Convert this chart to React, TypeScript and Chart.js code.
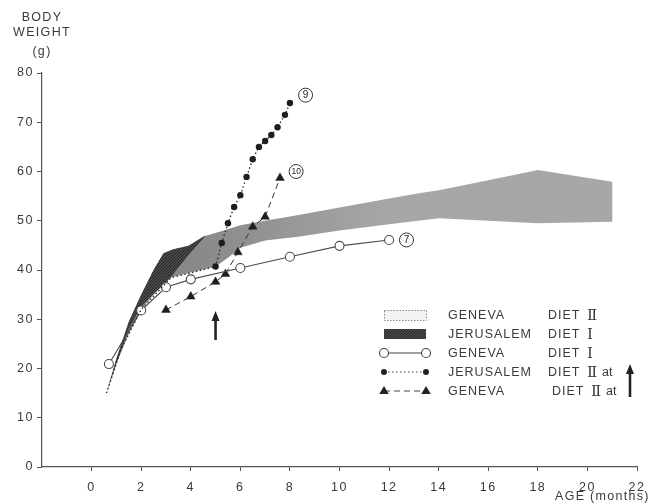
import React, { useEffect, useRef } from 'react';
import { Chart, registerables } from 'chart.js';

Chart.register(...registerables);

// ---- axis ticks ----
const X_TICKS = [0, 2, 4, 6, 8, 10, 12, 14, 16, 18, 20, 22];
const Y_TICKS = [0, 10, 20, 30, 40, 50, 60, 70, 80];

// ---- Geneva, diet I (open circles, solid) ----
const genevaDietIAge = [0.7, 2, 3, 4, 6, 8, 10, 12];
const genevaDietIWeight = [20.9, 31.8, 36.5, 38.1, 40.4, 42.7, 44.9, 46.1];

// ---- Jerusalem, diet II at arrow (filled dots, dotted) ----
const jerusalemDietIIAge = [0.6, 1.2, 2.0, 3.2, 5.0, 5.25, 5.5, 5.75, 6.0, 6.25, 6.5, 6.75, 7.0, 7.25, 7.5, 7.8, 8.0];
const jerusalemDietIIWeight = [15, 24, 32, 38.4, 40.7, 45.5, 49.5, 52.8, 55.2, 58.9, 62.5, 65.0, 66.2, 67.4, 69.0, 71.5, 73.9];
const jerusalemDietIIMarked = [false, false, false, false, true, true, true, true, true, true, true, true, true, true, true, true, true];

// ---- Geneva, diet II at arrow (triangles, dashed) ----
const genevaDietIIArrowAge = [3, 4, 5, 5.4, 5.9, 6.5, 7, 7.6];
const genevaDietIIArrowWeight = [31.9, 34.6, 37.6, 39.2, 43.6, 48.8, 50.8, 58.7];

// ---- Geneva, diet II range (light band) ----
const genevaDietIIUpperAge = [0.6, 1.0, 1.5, 2.0, 2.5, 2.9, 3.3, 3.9, 4.5, 5.2, 6, 7, 8.4, 10, 12, 13.2, 14, 16, 18, 21];
const genevaDietIIUpperWeight = [15, 22, 29.5, 35, 40, 43.4, 44.2, 44.7, 46.8, 47.8, 49.1, 50, 51.2, 52.7, 54.5, 55.6, 56.2, 58.2, 60.3, 57.9];
const genevaDietIILowerAge = [0.6, 1.0, 1.5, 2.0, 2.5, 3.2, 4.0, 5.0, 5.5, 6.0, 7.0, 8.4, 10, 12, 14, 16, 18, 21];
const genevaDietIILowerWeight = [15, 21, 27, 32, 35, 38.5, 39.5, 40.7, 42.5, 44.5, 46, 46.8, 48.0, 49.3, 50.5, 50.0, 49.5, 49.8];

// ---- Jerusalem, diet I range (dark hatched band) ----
const jerusalemDietIUpperAge = [0.6, 1.0, 1.5, 2.0, 2.5, 2.9, 3.3, 3.9, 4.6];
const jerusalemDietIUpperWeight = [15, 22, 29.5, 35, 40, 43.4, 44.2, 44.9, 47.0];
const jerusalemDietILowerAge = [0.6, 1.0, 1.5, 2.0, 2.5, 3.2, 3.8, 4.6];
const jerusalemDietILowerWeight = [15, 21, 28, 32.6, 35.2, 38.6, 42.4, 47.0];

// ---- circled group labels ----
const groupLabels = ['9', '10', '7'];
const groupLabelAge = [8.63, 8.25, 12.7];
const groupLabelWeight = [75.5, 60.0, 46.1];

// ---- arrow (diet change) ----
const arrowAge = 5;
const arrowFromWeight = 25.8;
const arrowToWeight = 31.7;

// ---- legend ----
const legendPlaces = ['GENEVA', 'JERUSALEM', 'GENEVA', 'JERUSALEM', 'GENEVA'];
const legendDiets = ['Ⅱ', 'Ⅰ', 'Ⅰ', 'Ⅱ', 'Ⅱ'];
const legendAt = [false, false, false, true, true];

const zip = (xs: number[], ys: number[]) => xs.map((x, i) => ({ x, y: ys[i] }));
const polygon = (ux: number[], uy: number[], lx: number[], ly: number[]) =>
  zip(ux, uy).concat(zip(lx, ly).reverse());

const FONT = '"Liberation Sans", Arial, Helvetica, sans-serif';
const INK = '#3a3a3a';

function makeHatch(): CanvasPattern | string {
  const c = document.createElement('canvas');
  c.width = 3;
  c.height = 3;
  const g = c.getContext('2d');
  if (!g) return '#444';
  g.fillStyle = '#6c6c6c';
  g.fillRect(0, 0, 3, 3);
  g.strokeStyle = '#262626';
  g.lineWidth = 1.4;
  g.beginPath();
  g.moveTo(0, 3); g.lineTo(3, 0);
  g.moveTo(-1, 1); g.lineTo(1, -1);
  g.moveTo(2, 4); g.lineTo(4, 2);
  g.stroke();
  return g.createPattern(c, 'repeat') || '#444';
}

function drawArrow(ctx: CanvasRenderingContext2D, x: number, yBottom: number, yTip: number) {
  ctx.save();
  ctx.strokeStyle = '#222';
  ctx.fillStyle = '#222';
  ctx.lineWidth = 2.6;
  ctx.beginPath();
  ctx.moveTo(x, yBottom);
  ctx.lineTo(x, yTip + 8);
  ctx.stroke();
  ctx.beginPath();
  ctx.moveTo(x, yTip);
  ctx.lineTo(x - 4, yTip + 10);
  ctx.lineTo(x + 4, yTip + 10);
  ctx.closePath();
  ctx.fill();
  ctx.restore();
}

function drawTriangle(ctx: CanvasRenderingContext2D, x: number, y: number, r: number) {
  ctx.beginPath();
  ctx.moveTo(x, y - r);
  ctx.lineTo(x + r * 0.95, y + r * 0.6);
  ctx.lineTo(x - r * 0.95, y + r * 0.6);
  ctx.closePath();
  ctx.fill();
}

export default function App() {
  const ref = useRef<HTMLCanvasElement>(null);

  useEffect(() => {
    const canvas = ref.current;
    if (!canvas) return;
    const hatch = makeHatch();

    const spacingPlugin = {
      id: 'spacing',
      beforeDraw(chart: any) {
        chart.ctx.letterSpacing = '1.5px';
      },
    };

    const decorPlugin = {
      id: 'decor',
      afterDatasetsDraw(chart: any) {
        const ctx: CanvasRenderingContext2D = chart.ctx;
        const xs = chart.scales.x;
        const ys = chart.scales.y;
        ctx.save();
        (ctx as any).letterSpacing = '0px';
        groupLabels.forEach((t, i) => {
          const px = xs.getPixelForValue(groupLabelAge[i]);
          const py = ys.getPixelForValue(groupLabelWeight[i]);
          ctx.beginPath();
          ctx.arc(px, py, 7, 0, Math.PI * 2);
          ctx.fillStyle = '#fff';
          ctx.fill();
          ctx.lineWidth = 1;
          ctx.strokeStyle = '#333';
          ctx.stroke();
          ctx.fillStyle = '#222';
          ctx.font = `${t.length > 1 ? 8.5 : 10}px ${FONT}`;
          ctx.textAlign = 'center';
          ctx.textBaseline = 'middle';
          ctx.fillText(t, px, py + 0.5);
        });
        drawArrow(ctx, xs.getPixelForValue(arrowAge), ys.getPixelForValue(arrowFromWeight), ys.getPixelForValue(arrowToWeight));
        ctx.restore();
      },
      afterDraw(chart: any) {
        const ctx: CanvasRenderingContext2D = chart.ctx;
        ctx.save();
        ctx.fillStyle = INK;
        ctx.textBaseline = 'middle';
        (ctx as any).letterSpacing = '1.3px';
        ctx.font = `12.5px ${FONT}`;
        ctx.textAlign = 'center';
        ctx.fillText('BODY', 42, 18);
        ctx.fillText('WEIGHT', 42, 33);
        ctx.fillText('(g)', 42, 52);
        ctx.textAlign = 'left';
        ctx.fillText('AGE (months)', 555, 497);

        const rows = [315, 334, 353, 372, 391];
        const x0 = 384;
        const x1 = 426;
        rows.forEach((y, i) => {
          ctx.save();
          ctx.strokeStyle = '#444';
          ctx.fillStyle = '#222';
          if (i === 0) {
            ctx.fillStyle = '#f3f3f3';
            ctx.fillRect(x0, y - 5, x1 - x0, 10);
            ctx.setLineDash([1.5, 1.5]);
            ctx.strokeStyle = '#888';
            ctx.lineWidth = 1;
            ctx.strokeRect(x0 + 0.5, y - 4.5, x1 - x0, 10);
          } else if (i === 1) {
            ctx.fillStyle = hatch as any;
            ctx.fillRect(x0, y - 5, x1 - x0, 10);
          } else if (i === 2) {
            ctx.lineWidth = 1.1;
            ctx.beginPath();
            ctx.moveTo(x0, y);
            ctx.lineTo(x1, y);
            ctx.stroke();
            [x0, x1].forEach((cx) => {
              ctx.beginPath();
              ctx.arc(cx, y, 4.5, 0, Math.PI * 2);
              ctx.fillStyle = '#fff';
              ctx.fill();
              ctx.stroke();
            });
          } else if (i === 3) {
            ctx.lineWidth = 1.1;
            ctx.setLineDash([1.5, 2.5]);
            ctx.beginPath();
            ctx.moveTo(x0, y);
            ctx.lineTo(x1, y);
            ctx.stroke();
            [x0, x1].forEach((cx) => {
              ctx.beginPath();
              ctx.arc(cx, y, 3, 0, Math.PI * 2);
              ctx.fill();
            });
          } else {
            ctx.lineWidth = 1;
            ctx.setLineDash([6, 4]);
            ctx.beginPath();
            ctx.moveTo(x0, y);
            ctx.lineTo(x1, y);
            ctx.stroke();
            [x0, x1].forEach((cx) => drawTriangle(ctx, cx, y, 5));
          }
          ctx.restore();

          ctx.fillStyle = INK;
          ctx.textAlign = 'left';
          (ctx as any).letterSpacing = '1px';
          ctx.font = `12.5px ${FONT}`;
          ctx.fillText(legendPlaces[i], 448, y + 1);
          const dx = i === 4 ? 552 : 548;
          ctx.fillText('DIET', dx, y + 1);
          (ctx as any).letterSpacing = '0px';
          ctx.font = `15px "DejaVu Serif", "Liberation Serif", serif`;
          ctx.fillText(legendDiets[i], dx + 39, y + 1);
          if (legendAt[i]) {
            ctx.font = `12.5px ${FONT}`;
            ctx.fillText('at', dx + 54, y + 1);
          }
        });
        drawArrow(ctx, 630, 397, 364);
        ctx.restore();
      },
    };

    const chart = new Chart(canvas, {
      type: 'line',
      data: {
        datasets: [
          {
            label: 'JERUSALEM DIET II at arrow',
            data: zip(jerusalemDietIIAge, jerusalemDietIIWeight),
            borderColor: '#2a2a2a',
            borderWidth: 1.3,
            borderDash: [1.5, 2.5],
            pointRadius: jerusalemDietIIMarked.map((m) => (m ? 3.2 : 0)),
            pointBackgroundColor: '#1e1e1e',
            pointBorderWidth: 0,
            fill: false,
            tension: 0,
            order: 0,
          },
          {
            label: 'GENEVA DIET I',
            data: zip(genevaDietIAge, genevaDietIWeight),
            borderColor: '#4a4a4a',
            borderWidth: 1.1,
            pointRadius: 4.5,
            pointBackgroundColor: '#ffffff',
            pointBorderColor: '#4a4a4a',
            pointBorderWidth: 1.1,
            fill: false,
            tension: 0,
            order: 1,
          },
          {
            label: 'GENEVA DIET II at arrow',
            data: zip(genevaDietIIArrowAge, genevaDietIIArrowWeight),
            borderColor: '#333',
            borderWidth: 1,
            borderDash: [6, 4],
            pointStyle: 'triangle',
            pointRadius: 5,
            pointBackgroundColor: '#1e1e1e',
            pointBorderColor: '#1e1e1e',
            pointBorderWidth: 0.5,
            fill: false,
            tension: 0,
            order: 2,
          },
          {
            label: 'JERUSALEM DIET I',
            data: polygon(jerusalemDietIUpperAge, jerusalemDietIUpperWeight, jerusalemDietILowerAge, jerusalemDietILowerWeight),
            borderColor: 'rgba(0,0,0,0)',
            borderWidth: 1,
            backgroundColor: hatch as any,
            pointRadius: 0,
            fill: 'shape',
            tension: 0,
            order: 8,
          },
          {
            label: 'GENEVA DIET II',
            data: polygon(genevaDietIIUpperAge, genevaDietIIUpperWeight, genevaDietIILowerAge, genevaDietIILowerWeight),
            borderColor: 'rgba(0,0,0,0)',
            borderWidth: 1,
            backgroundColor: (c: any) => {
              const ch = c.chart;
              if (!ch.chartArea) return '#a5a5a5';
              const xs = ch.scales.x;
              const g = ch.ctx.createLinearGradient(xs.getPixelForValue(4), 0, xs.getPixelForValue(12), 0);
              g.addColorStop(0, '#888888');
              g.addColorStop(1, '#a7a7a7');
              return g;
            },
            pointRadius: 0,
            fill: 'shape',
            tension: 0,
            order: 9,
          },
        ] as any,
      },
      options: {
        animation: false,
        responsive: false,
        maintainAspectRatio: false,
        events: [],
        layout: { padding: { top: 73, right: 11, left: 0, bottom: 0 } },
        plugins: {
          legend: { display: false },
          tooltip: { enabled: false },
        },
        scales: {
          x: {
            type: 'linear',
            min: -2,
            max: 22,
            afterBuildTicks: (s: any) => {
              s.ticks = X_TICKS.map((v) => ({ value: v }));
            },
            afterFit: (s: any) => {
              s.height = 36;
            },
            grid: { display: true, drawOnChartArea: false, drawTicks: true, tickLength: 4, color: '#555', lineWidth: 1 },
            border: { display: true, color: '#555', width: 1.2 },
            ticks: {
              color: INK,
              font: { family: FONT, size: 12.5 },
              padding: 9,
              maxRotation: 0,
              autoSkip: false,
            },
          },
          y: {
            type: 'linear',
            min: 0,
            max: 80,
            afterBuildTicks: (s: any) => {
              s.ticks = Y_TICKS.map((v) => ({ value: v }));
            },
            afterFit: (s: any) => {
              s.width = 42;
            },
            grid: { display: true, drawOnChartArea: false, drawTicks: true, tickLength: 5, color: '#555', lineWidth: 1 },
            border: { display: true, color: '#555', width: 1.2 },
            ticks: {
              color: INK,
              font: { family: FONT, size: 12.5 },
              padding: 3,
              autoSkip: false,
            },
          },
        },
      } as any,
      plugins: [spacingPlugin, decorPlugin],
    });

    return () => chart.destroy();
  }, []);

  return (
    <div style={{ position: 'fixed', left: 0, top: 0, width: 653, height: 503, background: '#fff' }}>
      <canvas ref={ref} width={653} height={503} style={{ display: 'block', width: 653, height: 503 }} />
    </div>
  );
}
